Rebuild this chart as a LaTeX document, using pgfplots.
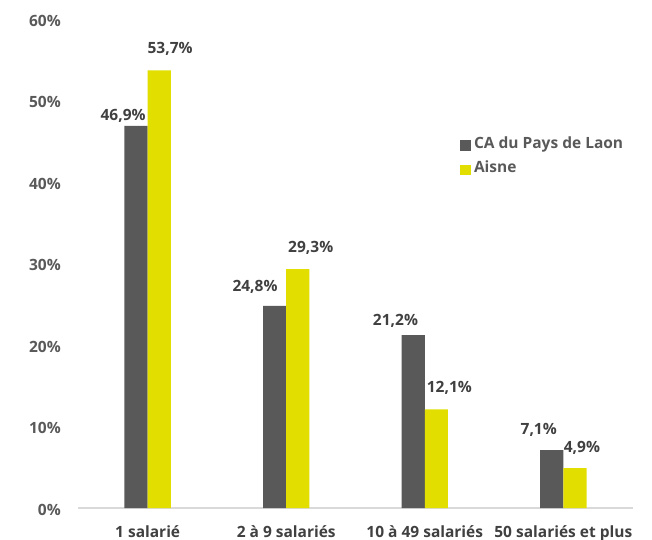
\documentclass[border=0pt]{standalone}
\usepackage{fontspec}
\setmainfont{Open Sans}
\usepackage{pgfplots}
\usepackage{pgfplotstable}
\pgfplotsset{compat=1.18}
\definecolor{cdark}{HTML}{595959}
\definecolor{cyel}{RGB}{225,222,0}
\definecolor{clab}{HTML}{404040}
\definecolor{caxis}{HTML}{D9D9D9}

\pgfplotstableread{
x y dx dy
0 46.9 -13 5
1 24.8 -19.6 14
2 21.2 -17.7 10
3 7.1 -13 15.7
}\tablaon
\pgfplotstableread{
x y dx dy
0 53.7 10.8 17
1 29.3 12.9 16.6
2 12.1 13 17
3 4.9 7 15.6
}\tabaisne

\begin{document}
\begin{tikzpicture}
\begin{axis}[
  name=ax,
  scale only axis,
  width=554.2bp, height=489bp,
  ybar=0pt, bar width=23.2bp,
  xmin=-0.5, xmax=3.5, ymin=0, ymax=60,
  xtick={0,1,2,3},
  xticklabels={1 salarié, 2 à 9 salariés, 10 à 49 salariés, 50 salariés et plus},
  ytick={0,10,...,60},
  yticklabel={\pgfmathprintnumber{\tick}\%},
  /pgf/number format/assume math mode=true,
  axis x line*=bottom, axis y line*=left,
  y axis line style={draw=none},
  x axis line style={draw=caxis, line width=1.3bp, -},
  tick style={draw=none},
  major tick length=0pt,
  font=\fontsize{15.5bp}{18bp}\selectfont\bfseries,
  yticklabel style={text=cdark, inner sep=0pt, xshift=-17.4bp, yshift=-1.5bp},
  xticklabel style={text=clab, inner sep=0pt, anchor=north, yshift=-17bp},
  clip=false,
  nodes near coords={\pgfmathprintnumber[fixed, fixed zerofill, precision=1, use comma]{\pgfplotspointmeta}\%},
  visualization depends on={\thisrow{dx} \as \dx},
  visualization depends on={\thisrow{dy} \as \dy},
  every node near coord/.append style={text=clab, inner sep=0pt, anchor=base, xshift=\dx bp, yshift=\dy bp, font=\fontsize{15.5bp}{18bp}\selectfont\bfseries},
  legend cell align=left,
  legend image code/.code={\fill[#1] (0bp,-2.5bp) rectangle (10.7bp,8.2bp);},
  legend style={at={(0.6886,0.7587)}, anchor=north west, draw=none, fill=none, inner sep=0pt, outer sep=0pt,
    row sep=9.2bp, column sep=3.3bp, text=cdark,
    font=\fontsize{15.5bp}{18bp}\selectfont\bfseries,
    cells={anchor=base west},
    nodes={inner sep=0pt, text height=11.5bp, text depth=3.7bp}},
]
\addplot[fill=cdark, draw=none] table[x=x, y=y] {\tablaon};
\addplot[fill=cyel, draw=none] table[x=x, y=y] {\tabaisne};
\legend{CA du Pays de Laon, Aisne}
\end{axis}
\pgfresetboundingbox
\path (ax.south west) ++(-78.4bp,-32bp) rectangle ++(652bp,540bp);
\end{tikzpicture}
\end{document}
